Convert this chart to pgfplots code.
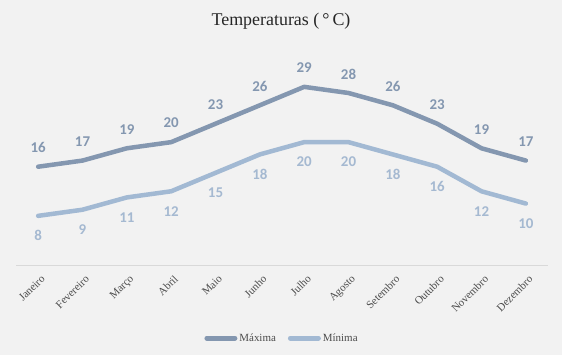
\documentclass[border=0pt]{standalone}
\usepackage{pgfplots}
\pgfplotsset{compat=1.18}
\usepackage{fontspec}
\setmainfont{Liberation Serif}
\newfontfamily\carlito{Carlito}
\definecolor{bg}{HTML}{F2F2F2}
\definecolor{cmax}{HTML}{8497B0}
\definecolor{cmin}{HTML}{A2B9D3}
\definecolor{lmax}{HTML}{8497B0}
\definecolor{lmin}{HTML}{A5B9D1}
\begin{document}
\begin{tikzpicture}[x=1bp,y=1bp]
\fill[bg] (0,0) rectangle (562,355);
\node[font=\fontsize{18}{18}\selectfont, text=black!85] at (281,334) {Temperaturas (\,°\,C)};
\begin{axis}[at={(16bp,90bp)}, anchor=south west, scale only axis,
  width=532bp, height=215bp,
  xmin=-0.5, xmax=11.5, ymin=0, ymax=35,
  /pgf/number format/assume math mode=true,
  axis x line*=bottom, axis y line=none,
  x axis line style={draw=black!15, line width=0.8bp, -},
  xtick={0,...,11},
  xticklabels={Janeiro,Fevereiro,Março,Abril,Maio,Junho,Julho,Agosto,Setembro,Outubro,Novembro,Dezembro},
  major tick length=0pt,
  xticklabel style={rotate=45, anchor=north east, font=\fontsize{11}{11}\selectfont, text=black!70, inner sep=1bp, xshift=-4bp, yshift=-7bp},
  clip=false,
  legend style={at={(0.5,-0.34)}, anchor=center, draw=none, fill=none, legend columns=2,
    font=\fontsize{11}{11}\selectfont, text=black!70,
    /tikz/every even column/.append style={column sep=10bp}},
  legend image code/.code={\draw[#1, line width=5bp, line cap=round] (0bp,0bp)--(28bp,0bp);},
  nodes near coords,
]
\addplot[cmax, line width=4.5bp, line join=round, line cap=round,
  nodes near coords style={font=\fontsize{15}{15}\selectfont\carlito\bfseries, text=lmax, anchor=center, yshift=19bp}]
  coordinates {(0,16) (1,17) (2,19) (3,20) (4,23) (5,26) (6,29) (7,28) (8,26) (9,23) (10,19) (11,17)};
\addlegendentry{Máxima}
\addplot[cmin, line width=4.5bp, line join=round, line cap=round,
  nodes near coords style={font=\fontsize{15}{15}\selectfont\carlito\bfseries, text=lmin, anchor=center, yshift=-20bp}]
  coordinates {(0,8) (1,9) (2,11) (3,12) (4,15) (5,18) (6,20) (7,20) (8,18) (9,16) (10,12) (11,10)};
\addlegendentry{Mínima}
\end{axis}
\end{tikzpicture}
\end{document}
